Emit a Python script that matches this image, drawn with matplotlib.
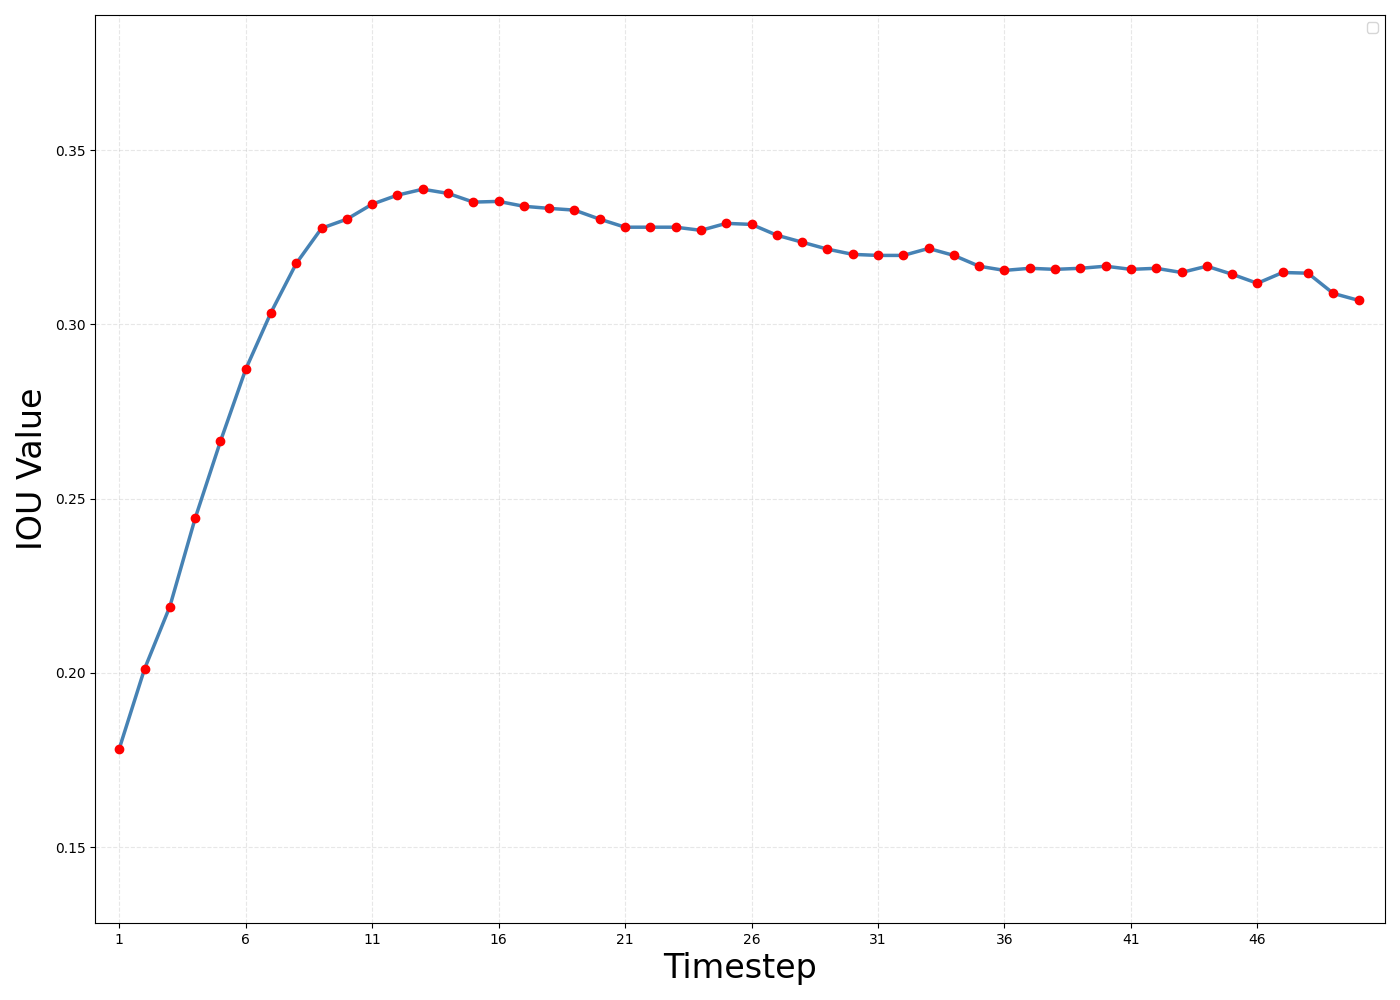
import matplotlib
matplotlib.use("Agg")
import matplotlib.pyplot as plt
import numpy as np

timesteps = list(range(1, 51))
iou_values = [0.1782, 0.2011, 0.2190, 0.2443, 0.2664, 0.2871, 0.3034, 0.3175, 0.3276, 0.3302,
              0.3345, 0.3371, 0.3388, 0.3376, 0.3351, 0.3353, 0.3339, 0.3333, 0.3328, 0.3302,
              0.3279, 0.3279, 0.3279, 0.3270, 0.3290, 0.3287, 0.3256, 0.3236, 0.3216, 0.3201,
              0.3198, 0.3198, 0.3218, 0.3198, 0.3167, 0.3155, 0.3161, 0.3158, 0.3161, 0.3167,
              0.3158, 0.3161, 0.3149, 0.3167, 0.3144, 0.3118, 0.3149, 0.3147, 0.3089, 0.3069]
xticks = list(range(1, 51, 5))

fig, ax = plt.subplots(figsize=(14, 10), dpi=100)
fig.subplots_adjust(left=0.068, right=0.989, top=0.985, bottom=0.077)
ax.plot(timesteps, iou_values, color='steelblue', linewidth=2.5, zorder=2)
ax.plot(timesteps, iou_values, 'o', color='red', markersize=6, zorder=3)
ax.set_xticks(xticks)
ax.set_xlim(0.05, 51.03)
ax.set_ylim(0.1282, 0.3888)
ax.grid(True, linestyle='--', alpha=0.3)
ax.set_xlabel('Timestep', fontsize=24)
ax.set_ylabel('IOU Value', fontsize=24)
ax.tick_params(labelsize=10)
ax.legend()
fig.savefig('out.png')
